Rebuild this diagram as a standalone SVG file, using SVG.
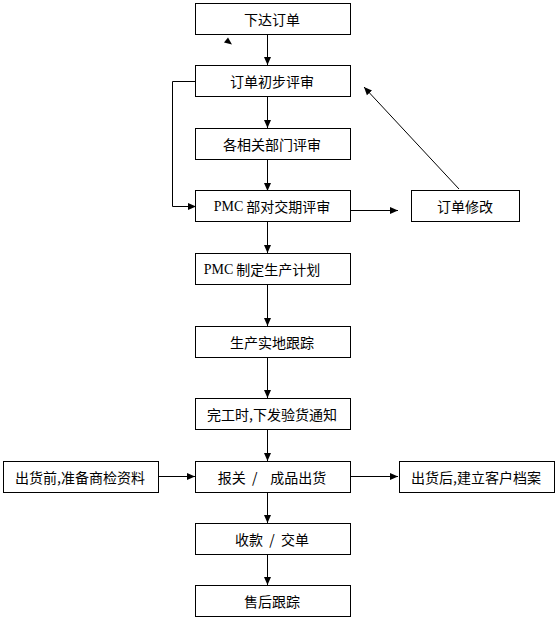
<svg xmlns="http://www.w3.org/2000/svg" width="560" height="622" viewBox="0 0 560 622">
<style>
.box{fill:#fff;stroke:#000;stroke-width:1}
.t{font-family:"Noto Sans CJK SC","Liberation Sans",sans-serif;font-size:14px;fill:#000;text-anchor:middle;dominant-baseline:central}
.pmc{font-family:"Liberation Serif",serif}
.ln{fill:none;stroke:#000;stroke-width:1}
</style>
<defs>
<marker id="ah" markerUnits="userSpaceOnUse" markerWidth="8" markerHeight="8" refX="8" refY="4" orient="auto">
<path d="M0,0.5 L8,4 L0,7.5 z" fill="#000"/>
</marker>
</defs>
<rect width="560" height="622" fill="#fff"/>
<g id="connectors">
<line class="ln" x1="267.5" y1="34" x2="267.5" y2="65" marker-end="url(#ah)"/>
<line class="ln" x1="267.5" y1="97" x2="267.5" y2="128" marker-end="url(#ah)"/>
<line class="ln" x1="267.5" y1="159" x2="267.5" y2="191" marker-end="url(#ah)"/>
<line class="ln" x1="267.5" y1="221" x2="267.5" y2="253" marker-end="url(#ah)"/>
<line class="ln" x1="267.5" y1="284" x2="267.5" y2="326" marker-end="url(#ah)"/>
<line class="ln" x1="267.5" y1="357" x2="267.5" y2="398" marker-end="url(#ah)"/>
<line class="ln" x1="267.5" y1="429" x2="267.5" y2="461" marker-end="url(#ah)"/>
<line class="ln" x1="267.5" y1="492" x2="267.5" y2="523" marker-end="url(#ah)"/>
<line class="ln" x1="267.5" y1="554" x2="267.5" y2="585" marker-end="url(#ah)"/>
<polyline class="ln" points="196,81.5 172.5,81.5 172.5,206.5 196,206.5" marker-end="url(#ah)"/>
<line class="ln" x1="351" y1="210.5" x2="398" y2="210.5" marker-end="url(#ah)"/>
<line class="ln" x1="459" y1="189" x2="364" y2="87" marker-end="url(#ah)"/>
<line class="ln" x1="158" y1="476.5" x2="195" y2="476.5" marker-end="url(#ah)"/>
<line class="ln" x1="351" y1="476.5" x2="398" y2="476.5" marker-end="url(#ah)"/>
<polygon points="228,37.5 224,42.5 232,44.5" fill="#000"/>
</g>
<g id="n1"><rect class="box" x="195.5" y="3.5" width="155" height="31"/><text class="t" x="272" y="19">下达订单</text></g>
<g id="n2"><rect class="box" x="195.5" y="65.5" width="155" height="31"/><text class="t" x="272" y="81">订单初步评审</text></g>
<g id="n3"><rect class="box" x="195.5" y="128.5" width="155" height="31"/><text class="t" x="272" y="144">各相关部门评审</text></g>
<g id="n4"><rect class="box" x="195.5" y="190.5" width="155" height="31"/><text class="t" x="272" y="206"><tspan class="pmc">PMC</tspan> 部对交期评审</text></g>
<g id="n5"><rect class="box" x="195.5" y="253.5" width="155" height="31"/><text class="t" x="262" y="269"><tspan class="pmc">PMC</tspan> 制定生产计划</text></g>
<g id="n6"><rect class="box" x="195.5" y="326.5" width="155" height="31"/><text class="t" x="272" y="342">生产实地跟踪</text></g>
<g id="n7"><rect class="box" x="195.5" y="398.5" width="155" height="31"/><text class="t" x="272" y="414">完工时,下发验货通知</text></g>
<g id="n8"><rect class="box" x="195.5" y="461.5" width="155" height="31"/><text class="t" x="272" y="477" xml:space="preserve">报关  /    成品出货</text></g>
<g id="n9"><rect class="box" x="195.5" y="523.5" width="155" height="31"/><text class="t" x="272" y="539" xml:space="preserve">收款  /  交单</text></g>
<g id="n10"><rect class="box" x="195.5" y="585.5" width="155" height="31"/><text class="t" x="272" y="601">售后跟踪</text></g>
<g id="n11"><rect class="box" x="411.5" y="190.5" width="108" height="31"/><text class="t" x="465" y="206">订单修改</text></g>
<g id="n12"><rect class="box" x="3.5" y="461.5" width="155" height="31"/><text class="t" x="80" y="477">出货前,准备商检资料</text></g>
<g id="n13"><rect class="box" x="399.5" y="461.5" width="155" height="31"/><text class="t" x="476" y="477">出货后,建立客户档案</text></g>
</svg>
